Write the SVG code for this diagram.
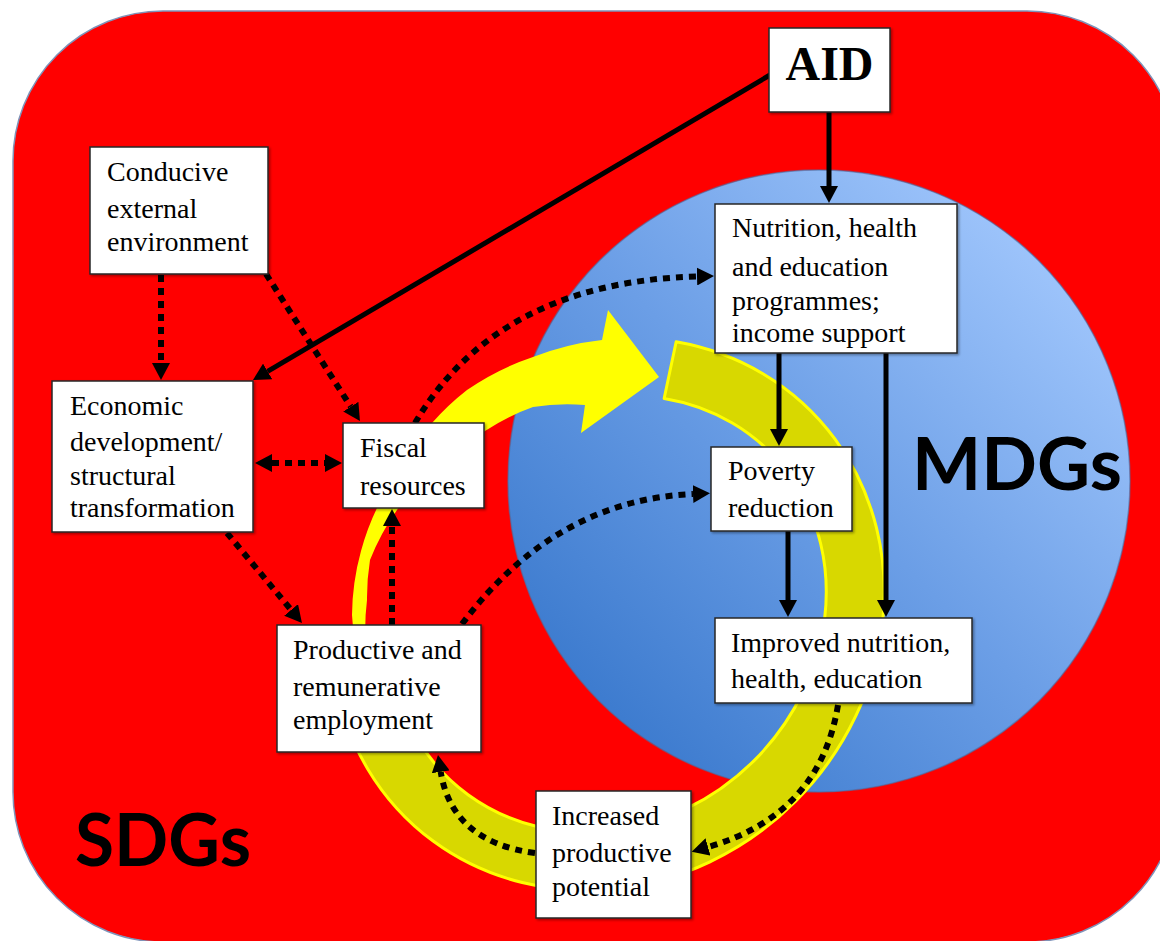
<svg xmlns="http://www.w3.org/2000/svg" width="1160" height="941" viewBox="0 0 1160 941">
  <style>
    .box { fill: #ffffff; stroke: #262626; stroke-width: 1.5; filter: url(#shadow); }
    .lbl { font-family: "Liberation Serif", "Times New Roman", serif; font-size: 28px; fill: #000; }
    .big { font-family: Lato, "Open Sans", "Liberation Sans", sans-serif; font-weight: bold; font-size: 72px; fill: #000; }
    .solid { fill: none; stroke: #000; stroke-width: 5; marker-end: url(#ah); }
    .dot { fill: none; stroke: #000; stroke-width: 6; stroke-dasharray: 7 6; marker-end: url(#ah); }
  </style>
  <defs>
    <marker id="ah" markerUnits="userSpaceOnUse" markerWidth="17" markerHeight="18" viewBox="0 0 17 18" refX="0" refY="9" orient="auto-start-reverse">
      <path d="M0,0 L17,9 L0,18 z" fill="#000"/>
    </marker>
    <linearGradient id="blue" x1="0.12" y1="0.88" x2="0.88" y2="0.12">
      <stop offset="0" stop-color="#3a79cd"/>
      <stop offset="0.5" stop-color="#6b9ee6"/>
      <stop offset="1" stop-color="#a0c6fc"/>
    </linearGradient>
    <filter id="shadow" x="-10%" y="-10%" width="120%" height="120%">
      <feDropShadow dx="1.5" dy="1.5" stdDeviation="1.2" flood-color="#000" flood-opacity="0.35"/>
    </filter>
  </defs>

  <!-- outer SDG field -->
  <rect id="sdg-field" x="13" y="11" width="1164" height="931" rx="150" ry="150" fill="#ff0000" stroke="#7f93b9" stroke-width="1.5"/>

  <!-- MDG disc -->
  <circle id="mdg-disc" cx="819" cy="481" r="311" fill="url(#blue)" stroke="#4a6fa5" stroke-width="1.5" stroke-opacity="0.6"/>

  <!-- circular cycle arrow: shaded back band -->
  <g id="cycle-band" transform="translate(608 614) rotate(-45)">
    <path d="M240.7,-144.3 A287,265 0 1 1 -240.7,-144.3 L-192.1,-112.7 A229,207 0 1 0 192.1,-112.7 Z" fill="#d8d800" stroke="#ffff00" stroke-width="3" stroke-linejoin="round"/>
  </g>

  <!-- circular cycle arrow: tapered front part with head -->
  <path id="cycle-arrow" fill="#ffff00" d="M364,680 A250,250 0 0 1 352,615 A250,250 0 0 1 361,551 A249,249 0 0 1 386,491 A252,252 0 0 1 432,423 A258,258 0 0 1 467,390 A262,262 0 0 1 533,357 A270,270 0 0 1 602,340 L608,310 L659,377 L581,433 L585,405 A212,212 0 0 0 533,407 A218,218 0 0 0 485,431 A225,225 0 0 0 430,470 A230,230 0 0 0 397,510 A236,236 0 0 0 370,560 A238,238 0 0 0 367,600 A240,240 0 0 0 370,677 Z"/>

  <!-- connectors -->
  <g id="connectors">
    <line class="solid" x1="770" y1="75" x2="267.6" y2="371.4"/>
    <line class="solid" x1="829" y1="112" x2="829" y2="186"/>
    <line class="solid" x1="779" y1="353" x2="779" y2="429"/>
    <line class="solid" x1="886" y1="353" x2="886" y2="600"/>
    <line class="solid" x1="788" y1="531" x2="788" y2="600"/>

    <line class="dot" x1="161" y1="275" x2="161" y2="363"/>
    <line class="dot" x1="266" y1="274" x2="350.8" y2="406.7"/>
    <line class="dot" x1="272" y1="463" x2="325" y2="463" style="marker-start: url(#ah)"/>
    <line class="dot" x1="227" y1="533" x2="291.1" y2="609.9"/>
    <line class="dot" x1="392" y1="625" x2="392" y2="526"/>
    <path class="dot" d="M462,624 Q555,500 693,494"/>
    <path class="dot" d="M415,423 Q498,282 697,276.5"/>
    <path class="dot" d="M838,705 Q820,815 708,847"/>
    <path class="dot" d="M535,853 Q452,842 440.7,771.8"/>
  </g>

  <!-- nodes -->
  <g id="aid">
    <rect class="box" x="769" y="28" width="121" height="84"/>
    <text x="829.5" y="80" text-anchor="middle" font-family="Liberation Serif, Times New Roman, serif" font-weight="bold" font-size="48">AID</text>
  </g>

  <g id="external-environment">
    <rect class="box" x="90" y="147" width="178" height="127"/>
    <text class="lbl" x="107" y="181">Conducive</text>
    <text class="lbl" x="107" y="218">external</text>
    <text class="lbl" x="107" y="251">environment</text>
  </g>

  <g id="economic-development">
    <rect class="box" x="52" y="381" width="201" height="151"/>
    <text class="lbl" x="70" y="415">Economic</text>
    <text class="lbl" x="70" y="451">development/</text>
    <text class="lbl" x="70" y="485">structural</text>
    <text class="lbl" x="70" y="517">transformation</text>
  </g>

  <g id="fiscal-resources">
    <rect class="box" x="343" y="423" width="141" height="85"/>
    <text class="lbl" x="360" y="457">Fiscal</text>
    <text class="lbl" x="360" y="495">resources</text>
  </g>

  <g id="programmes">
    <rect class="box" x="715" y="204" width="242" height="149"/>
    <text class="lbl" x="732" y="237">Nutrition, health</text>
    <text class="lbl" x="732" y="276">and education</text>
    <text class="lbl" x="732" y="310">programmes;</text>
    <text class="lbl" x="732" y="342">income support</text>
  </g>

  <g id="poverty-reduction">
    <rect class="box" x="711" y="447" width="141" height="84"/>
    <text class="lbl" x="728" y="480">Poverty</text>
    <text class="lbl" x="728" y="517">reduction</text>
  </g>

  <g id="improved-outcomes">
    <rect class="box" x="715" y="618" width="257" height="85"/>
    <text class="lbl" x="731" y="652">Improved nutrition,</text>
    <text class="lbl" x="731" y="688">health, education</text>
  </g>

  <g id="employment">
    <rect class="box" x="277" y="625" width="204" height="127"/>
    <text class="lbl" x="293" y="659">Productive and</text>
    <text class="lbl" x="293" y="696">remunerative</text>
    <text class="lbl" x="293" y="729">employment</text>
  </g>

  <g id="productive-potential">
    <rect class="box" x="536" y="791" width="155" height="127"/>
    <text class="lbl" x="552" y="825">Increased</text>
    <text class="lbl" x="552" y="862">productive</text>
    <text class="lbl" x="552" y="896">potential</text>
  </g>

  <!-- region captions -->
  <text id="mdgs" class="big" x="912" y="490" textLength="210" lengthAdjust="spacingAndGlyphs">MDGs</text>
  <text id="sdgs" class="big" x="75" y="866" textLength="176" lengthAdjust="spacingAndGlyphs">SDGs</text>
</svg>
